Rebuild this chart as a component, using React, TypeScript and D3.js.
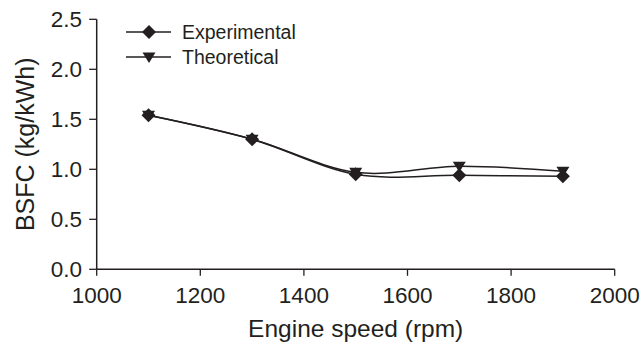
import React from "react";
import * as d3 from "d3";

const speeds = [1100, 1300, 1500, 1700, 1900];
const experimental = [1.54, 1.3, 0.95, 0.94, 0.93];
const theoretical = [1.54, 1.3, 0.97, 1.03, 0.98];
const xTicks = [1000, 1200, 1400, 1600, 1800, 2000];
const yTicks = [0, 0.5, 1.0, 1.5, 2.0, 2.5];
const seriesNames = ["Experimental", "Theoretical"];

const INK = "#231f20";
const FONT = "'Liberation Sans', Arial, Helvetica, sans-serif";

function Diamond({ x, y, r }: { x: number; y: number; r: number }) {
  return <path d={`M${x},${y - r}L${x + r},${y}L${x},${y + r}L${x - r},${y}Z`} fill={INK} />;
}
function TriDown({ x, y }: { x: number; y: number }) {
  const w = 6.5, hTop = 4.5, hBot = 6;
  return <path d={`M${x - w},${y - hTop}L${x + w},${y - hTop}L${x},${y + hBot}Z`} fill={INK} />;
}

export default function App() {
  const W = 643, H = 344;
  const left = 96.7, right = 614.7, top = 19.3, bottom = 269.3;
  const x = d3.scaleLinear().domain([1000, 2000]).range([left, right]);
  const y = d3.scaleLinear().domain([0, 2.5]).range([bottom, top]);
  const line = d3
    .line<number>()
    .x((_, i) => x(speeds[i]))
    .y((d) => y(d))
    .curve(d3.curveCardinal.tension(0));

  return (
    <svg width={W} height={H} style={{ position: "absolute", left: 0, top: 0, background: "#fff" }} fontFamily={FONT}>
      {/* axes */}
      <line x1={left} x2={left} y1={top} y2={bottom} stroke={INK} strokeWidth={1.5} />
      <line x1={left} x2={right} y1={bottom} y2={bottom} stroke={INK} strokeWidth={1.5} />
      {yTicks.map((t) => (
        <g key={"y" + t}>
          <line x1={left - 7.5} x2={left} y1={y(t)} y2={y(t)} stroke={INK} strokeWidth={1.3} />
          <text x={82} y={y(t)} dy="0.36em" textAnchor="end" fontSize={22.5} fill={INK}>
            {t.toFixed(1)}
          </text>
        </g>
      ))}
      {xTicks.map((t) => (
        <g key={"x" + t}>
          <line x1={x(t)} x2={x(t)} y1={bottom} y2={bottom + 6.5} stroke={INK} strokeWidth={1.3} />
          <text x={x(t)} y={303} textAnchor="middle" fontSize={22.5} fill={INK}>
            {t}
          </text>
        </g>
      ))}
      <text x={(left + right) / 2} y={337} textAnchor="middle" fontSize={24.5} fill={INK}>
        Engine speed (rpm)
      </text>
      <text
        transform={`translate(33.5,${(top + bottom) / 2}) rotate(-90)`}
        textAnchor="middle"
        fontSize={25}
        fill={INK}
      >
        BSFC (kg/kWh)
      </text>

      {/* series */}
      <path d={line(theoretical) || ""} fill="none" stroke={INK} strokeWidth={1.5} />
      <path d={line(experimental) || ""} fill="none" stroke={INK} strokeWidth={1.5} />
      {theoretical.map((v, i) => (
        <TriDown key={"t" + i} x={x(speeds[i])} y={y(v)} />
      ))}
      {experimental.map((v, i) => (
        <Diamond key={"e" + i} x={x(speeds[i])} y={y(v)} r={7} />
      ))}

      {/* legend */}
      <g>
        <line x1={126} x2={171} y1={32} y2={32} stroke={INK} strokeWidth={1.5} />
        <Diamond x={149} y={32} r={7} />
        <text x={182} y={38.5} fontSize={19.5} fill={INK}>
          {seriesNames[0]}
        </text>
        <line x1={126} x2={171} y1={57} y2={57} stroke={INK} strokeWidth={1.5} />
        <TriDown x={149} y={57} />
        <text x={182} y={63.5} fontSize={19.5} fill={INK}>
          {seriesNames[1]}
        </text>
      </g>
    </svg>
  );
}
